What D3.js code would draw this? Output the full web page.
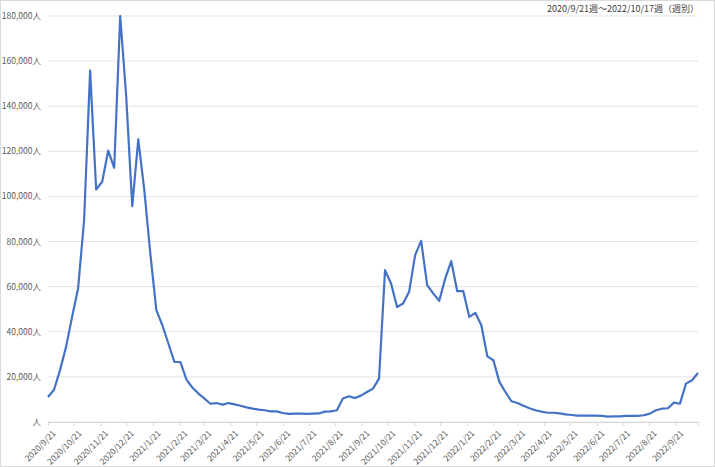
<!DOCTYPE html>
<html><head><meta charset="utf-8">
<script src="https://cdn.jsdelivr.net/npm/d3@7"></script>
<style>body{margin:0;background:#fff}svg{display:block}</style>
</head><body>
<svg id="c" width="715" height="467"></svg>
<script>
const startDate = "2020-09-21";
const values = [11100,14300,23000,33300,46600,59200,89500,155800,103100,106500,120300,112700,180000,144000,95700,125300,102800,74700,49600,42900,34800,26600,26600,18800,15200,12600,10400,8100,8400,7700,8400,7800,7200,6500,5900,5500,5200,4700,4700,4000,3600,3700,3700,3600,3700,3800,4600,4700,5200,10400,11400,10600,11700,13300,14800,19200,67300,61400,51000,52500,57700,74000,80300,60700,57000,53700,63600,71300,58000,58000,46600,48400,42900,29100,27400,17800,13300,9200,8400,7200,6100,5200,4600,4100,4100,3800,3400,3100,2800,2800,2800,2800,2700,2400,2500,2500,2700,2700,2700,3000,3700,5200,5900,6100,8600,8100,17000,18500,21700];
const yTicks = [0,20000,40000,60000,80000,100000,120000,140000,160000,180000];
const title = "2020/9/21週～2022/10/17週（週別）";

const svg = d3.select("#c");
const font = "'Noto Sans CJK JP', 'Noto Sans', sans-serif";
svg.append("rect").attr("x",0.5).attr("y",0.5).attr("width",714).attr("height",466).attr("fill","#fff").attr("stroke","#d9d9d9");
const t0 = new Date(2020,8,21);
const dates = values.map((v,i)=>d3.timeDay.offset(t0, 7*i));
const x = d3.scaleTime().domain([dates[0], dates[dates.length-1]]).range([48,698]);
const y = d3.scaleLinear().domain([0,180000]).range([422,16]);

svg.append("g").selectAll("line").data(yTicks).join("line")
  .attr("x1",48).attr("x2",698).attr("y1",d=>y(d)).attr("y2",d=>y(d))
  .attr("stroke","#e3e3e3").attr("stroke-width",1);
svg.append("g").selectAll("text").data(yTicks).join("text")
  .attr("x",41).attr("y",d=>y(d)+3).attr("text-anchor","end")
  .attr("font-family",font).attr("font-size",8.5).attr("fill","#595959")
  .text(d=>(d===0?"":d3.format(",")(d))+"人");

const mTicks = [];
for(let i=0;i<25;i++){ const d=new Date(2020,8+i,21); if(d<=dates[dates.length-1]) mTicks.push(d); }
const xa = svg.append("g").attr("transform","translate(0,422)")
  .call(d3.axisBottom(x).tickValues(mTicks).tickSize(4).tickFormat(d3.timeFormat("%Y/%-m/%-d")));
xa.select(".domain").attr("stroke","#d9d9d9");
xa.selectAll(".tick line").attr("stroke","#d9d9d9");
xa.selectAll("text").attr("font-family",font).attr("font-size",8.5).attr("fill","#595959")
  .attr("text-anchor","end").attr("dy",0).attr("transform","translate(3,7) rotate(-45)");

svg.append("path").datum(values.map((v,i)=>[dates[i],v]))
  .attr("fill","none").attr("stroke","#4472c4").attr("stroke-width",2.2).attr("stroke-linejoin","round")
  .attr("d", d3.line().x(d=>x(d[0])).y(d=>y(d[1])));

svg.append("text").attr("x",699).attr("y",12).attr("text-anchor","end")
  .attr("font-family",font).attr("font-size",9).attr("fill","#404040").text(title);
</script>
</body></html>
